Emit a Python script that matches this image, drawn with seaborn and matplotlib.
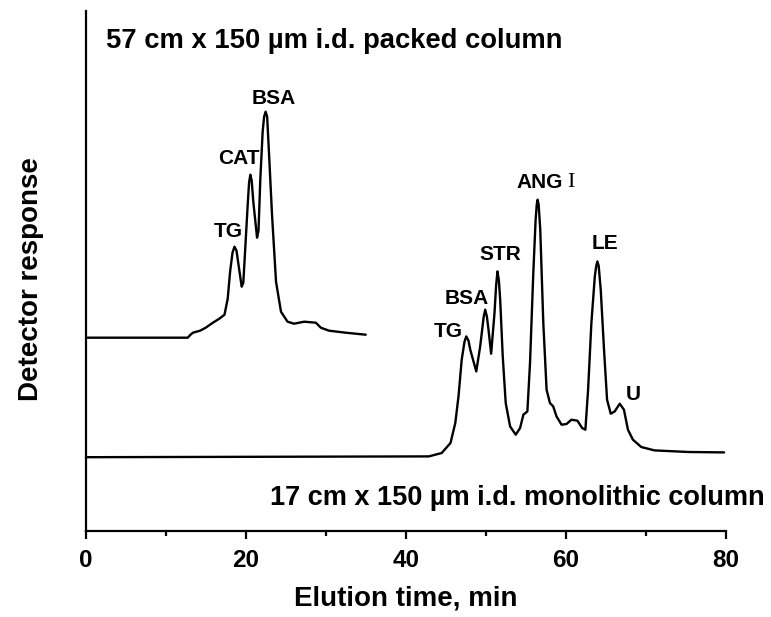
import matplotlib
matplotlib.use("Agg")
import matplotlib.pyplot as plt
import seaborn as sns
import pandas as pd

# ---- data (time in min, detector response in arbitrary units) ----
packed_time = [0, 12.75, 13.1, 13.4, 14.3, 15.0, 15.9, 16.7, 17.35, 17.75, 18.05, 18.35, 18.6,
               18.85, 19.1, 19.5, 19.7, 19.9, 20.25, 20.42, 20.58, 20.75, 20.95, 21.42, 21.6,
               21.83, 22.12, 22.3, 22.49, 22.68, 22.86, 23.29, 23.79, 24.41, 25.23, 26.05,
               27.3, 28.77, 29.39, 30.42, 32.5, 35.0]
packed_resp = [193, 193, 196, 198, 200, 203, 208, 212, 216, 232, 259, 278, 284,
               280, 266, 244, 248, 276, 326, 348, 356, 350, 329, 293, 300,
               352, 399, 414, 419, 414, 386, 316, 249, 219, 209, 207,
               209, 208, 203, 200, 198, 196]

mono_time = [0, 26.7, 42.9, 44.5, 45.6, 46.2, 46.6, 47.0, 47.35, 47.57, 47.85, 48.07, 48.82,
             49.31, 49.75, 49.94, 50.15, 50.35, 50.68, 51.1, 51.3, 51.47, 51.65, 51.81, 52.13,
             52.5, 53.05, 53.75, 54.3, 54.71, 55.21, 55.54, 55.95, 56.24, 56.38, 56.49, 56.62,
             56.82, 57.2, 57.61, 58.03, 58.44, 58.85, 59.48, 60.1, 60.72, 61.47, 62.05, 62.46,
             62.8, 63.21, 63.64, 63.82, 63.96, 64.12, 64.38, 64.79, 65.17, 65.63, 66.13, 66.75,
             67.28, 67.78, 68.4, 69.44, 71.1, 75.35, 79.8]
mono_resp = [73.5, 74, 74.3, 77.7, 87.7, 107.7, 134.3, 171, 189, 194.3, 190, 181, 159.3,
             184.3, 214, 221, 214, 201, 177, 217.7, 245, 259.3, 250, 231, 174.3,
             127.7, 104.3, 96, 102.7, 116, 119.3, 167.7, 257.7, 311, 326, 331, 326,
             301, 207.7, 141, 127.7, 124.3, 114.3, 106, 106.7, 111, 110, 102.7, 101,
             141, 207.7, 254.3, 265, 269.3, 265, 241, 181, 131, 117, 119.3, 127,
             121, 101, 91, 83.7, 80.3, 78.7, 78.3]

packed_labels = ["TG", "CAT", "BSA"]
packed_label_t = [17.8, 19.1, 23.45]
packed_label_r = [299, 372, 432]

mono_labels = ["TG", "BSA", "STR", "ANG", "LE", "U"]
mono_label_t = [45.3, 47.6, 51.8, 56.7, 64.9, 68.45]
mono_label_r = [199, 232, 276, 348, 287, 136]

x_ticks = [0, 20, 40, 60, 80]
x_minor = [10, 30, 50, 70]

# ---- style ----
sns.set_style("ticks")
plt.rcParams["font.family"] = ["Liberation Sans", "DejaVu Sans"]
plt.rcParams["text.color"] = "black"
plt.rcParams["xtick.color"] = "black"
plt.rcParams["xtick.labelcolor"] = "black"
plt.rcParams["axes.edgecolor"] = "black"

fig = plt.figure(figsize=(7.71, 6.17), dpi=100)
ax = fig.add_axes([85.7 / 771, 1 - 530.7 / 617, (725.7 - 85.7) / 771, (530.7 - 11) / 617])

df_p = pd.DataFrame({"t": packed_time, "r": packed_resp})
df_m = pd.DataFrame({"t": mono_time, "r": mono_resp})
sns.lineplot(data=df_p, x="t", y="r", ax=ax, color="black", lw=1.7, sort=False)
sns.lineplot(data=df_m, x="t", y="r", ax=ax, color="black", lw=1.7, sort=False)

ax.set_xlim(0, 80)
ax.set_ylim(0, 519.7)
sns.despine(ax=ax)
for s in ["left", "bottom"]:
    ax.spines[s].set_linewidth(1.6)
    ax.spines[s].set_color("black")
ax.set_yticks([])
ax.set_xticks(x_ticks)
ax.set_xticks(x_minor, minor=True)
ax.tick_params(axis="x", which="major", length=6, width=1.6, direction="out", color="black",
               labelcolor="black", pad=7, labelsize=17.5)
ax.tick_params(axis="x", which="minor", length=3.5, width=1.6, direction="out", color="black")
for lab in ax.get_xticklabels():
    lab.set_fontweight("bold")
ax.set_xlabel("")
ax.set_ylabel("")

for txt, t, r in zip(packed_labels, packed_label_t, packed_label_r):
    ax.text(t, r, txt, ha="center", va="center", fontsize=15, fontweight="bold", color="black")
for txt, t, r in zip(mono_labels, mono_label_t, mono_label_r):
    ax.text(t, r, txt, ha="center", va="center", fontsize=15, fontweight="bold", color="black")
# Roman numeral of "ANG I" set in a serif face
ax.text(60.7, 348, "I", ha="center", va="center", fontsize=16, color="black",
        family=["Liberation Serif", "DejaVu Serif"])

ax.text(2.5, 482.7, "57 cm x 150 µm i.d. packed column", ha="left", va="baseline",
        fontsize=19.7, fontweight="bold", color="black")
ax.text(23.0, 25.7, "17 cm x 150 µm i.d. monolithic column", ha="left", va="baseline",
        fontsize=19.5, fontweight="bold", color="black", clip_on=False)

fig.text(406 / 771, 1 - 599 / 617, "Elution time, min", ha="center", va="center",
         fontsize=20, fontweight="bold", color="black")
fig.text(31 / 771, 1 - 279 / 617, "Detector response", ha="center", va="center", rotation=90,
         fontsize=20, fontweight="bold", color="black")

fig.savefig("out.png", dpi=100)
